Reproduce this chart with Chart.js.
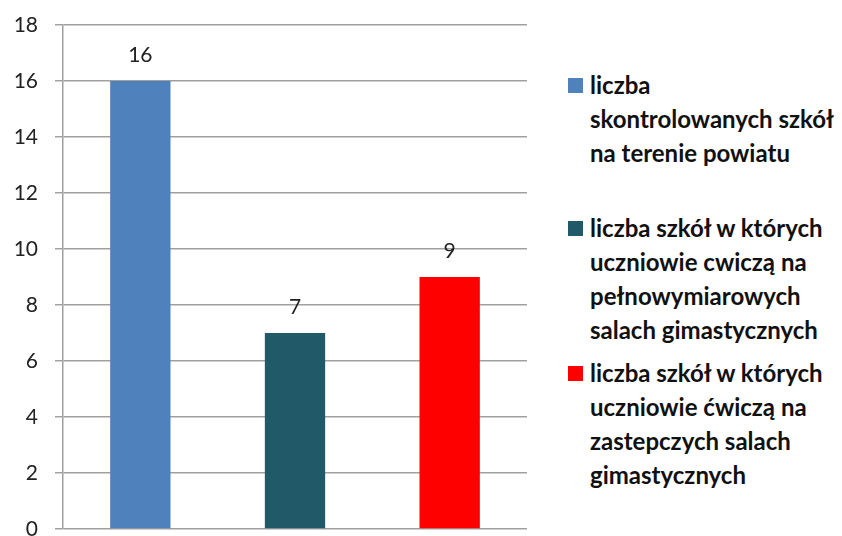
<!DOCTYPE html>
<html lang="pl">
<head>
  <meta charset="UTF-8">
  <title>Szkoły - sale gimnastyczne</title>
  <script src="https://cdn.jsdelivr.net/npm/chart.js"></script>
  <style>
    body { margin: 0; background: #fff; }
    #wrap { position: relative; width: 842px; height: 536px; overflow: hidden; }
    #wykres { position: absolute; left: 0; top: 0; }
    #legenda { position: absolute; left: 568px; top: 0; font-family: Lato, sans-serif; font-weight: bold; font-size: 24px; color: #111; }
    .poz { position: absolute; left: 0; white-space: nowrap; line-height: 34px; }
    .kw { position: absolute; left: 0; width: 15px; height: 15px; }
    .txt { position: absolute; left: 22px; }
  </style>
</head>
<body>
  <div id="wrap">
    <canvas id="wykres" width="540" height="536"></canvas>
    <div id="legenda"></div>
  </div>
  <script>
    // dane wykresu
    const kategorie = [
      ['liczba', 'skontrolowanych szkół', 'na terenie powiatu'],
      ['liczba szkół w których', 'uczniowie cwiczą na', 'pełnowymiarowych', 'salach gimastycznych'],
      ['liczba szkół w których', 'uczniowie ćwiczą na', 'zastepczych salach', 'gimastycznych']
    ];
    const wartosci = [16, 7, 9];
    const kolory = ['#4F81BD', '#215968', '#FF0000'];
    const osY = { min: 0, max: 18, krok: 2 };

    // etykiety z wartościami nad słupkami
    const etykietyWartosci = {
      id: 'etykietyWartosci',
      afterDatasetsDraw(chart) {
        const ctx = chart.ctx;
        ctx.save();
        ctx.font = '21px Lato, sans-serif';
        ctx.fillStyle = '#222';
        ctx.textAlign = 'center';
        ctx.textBaseline = 'middle';
        chart.getDatasetMeta(0).data.forEach((bar, i) => {
          ctx.fillText(wartosci[i], bar.x, bar.y - 26);
        });
        ctx.restore();
      }
    };

    var ctx = document.getElementById('wykres').getContext('2d');
    var wykres = new Chart(ctx, {
      type: 'bar',
      data: {
        labels: kategorie,
        datasets: [{
          data: wartosci,
          backgroundColor: kolory,
          categoryPercentage: 1,
          barPercentage: 0.39
        }]
      },
      options: {
        responsive: false,
        animation: false,
        layout: { padding: { left: 0, top: 25, right: 13, bottom: 7 } },
        plugins: { legend: { display: false }, tooltip: { enabled: false } },
        scales: {
          x: { display: false },
          y: {
            min: osY.min,
            max: osY.max,
            ticks: { stepSize: osY.krok, padding: 17, color: '#222', font: { family: 'Lato', size: 21 } },
            grid: { color: '#a0a0a0', lineWidth: 1.5, tickLength: 8 },
            border: { color: '#a0a0a0', width: 1.5 },
            afterFit: function (scale) {
              scale.width = 63;
              scale.paddingTop = 0;
              scale.paddingBottom = 0;
            }
          }
        }
      },
      plugins: [etykietyWartosci]
    });

    // legenda w HTML, z tych samych tablic
    const gornePozycje = [68, 211, 356];
    const legenda = document.getElementById('legenda');
    kategorie.forEach((linie, i) => {
      const poz = document.createElement('div');
      poz.className = 'poz';
      poz.style.top = gornePozycje[i] + 'px';
      poz.innerHTML = '<div class="kw" style="top:10px;background:' + kolory[i] + '"></div>' +
        '<div class="txt">' + linie.join('<br>') + '</div>';
      legenda.appendChild(poz);
    });
  </script>
</body>
</html>
